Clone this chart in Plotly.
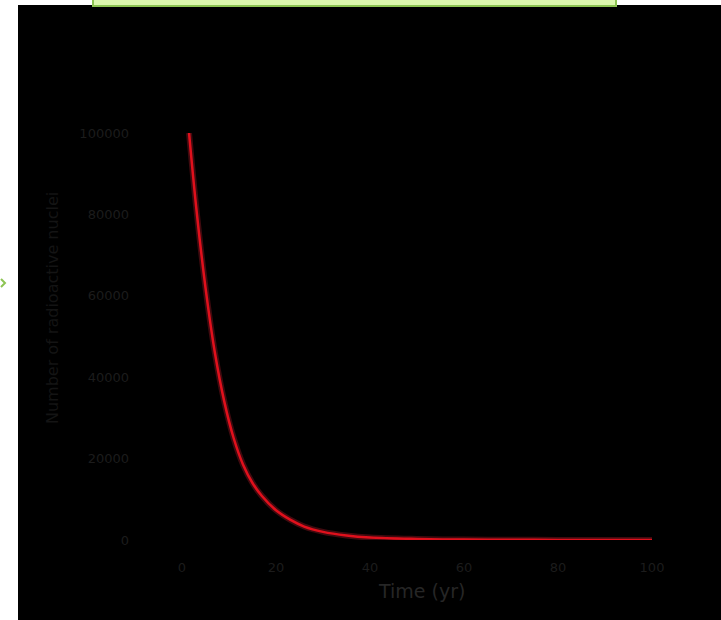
import plotly.graph_objects as go

# Data
time_yr = [1.5, 3, 5, 7, 9, 11, 13, 15, 17, 20, 23, 26, 30, 35, 40, 50, 60, 70, 80, 90, 100]
nuclei = [100000, 82000, 62000, 46000, 34000, 25000, 18500, 14000, 10800, 7300, 5000,
          3300, 2000, 1100, 600, 250, 100, 50, 30, 15, 10]
x_ticks = [0, 20, 40, 60, 80, 100]
y_ticks = [0, 20000, 40000, 60000, 80000, 100000]
y_tick_text = ["0", "20000", "40000", "60000", "80000", "100000"]

W, H = 721, 620
L, R, T, B = 182, 69, 133, 80
pw, ph = W - L - R, H - T - B


def px(x):
    return (x - L) / pw


def py(y):
    return (H - B - y) / ph


fig = go.Figure()
fig.add_trace(go.Scatter(
    x=time_yr, y=nuclei, mode="lines",
    line=dict(color="rgba(255,40,60,0.25)", width=6, shape="spline"),
    hoverinfo="skip", showlegend=False))
fig.add_trace(go.Scatter(
    x=time_yr, y=nuclei, mode="lines",
    line=dict(color="#e0101c", width=2.5, shape="spline"),
    showlegend=False))

axis_font = dict(family="DejaVu Sans, sans-serif", size=13, color="#1c1c1c")

fig.update_layout(
    width=W, height=H,
    margin=dict(l=L, r=R, t=T, b=B),
    paper_bgcolor="black", plot_bgcolor="black",
    xaxis=dict(range=[0, 100], tickvals=x_ticks, showgrid=False, zeroline=False,
               showline=False, tickfont=axis_font, ticklabelstandoff=18),
    yaxis=dict(range=[0, 100000], tickvals=y_ticks, ticktext=y_tick_text,
               showgrid=False, zeroline=False, showline=False,
               tickfont=axis_font, ticklabelstandoff=52),
    shapes=[
        dict(type="rect", xref="paper", yref="paper", x0=px(-2), x1=px(18), y0=py(H + 2), y1=py(-2),
             fillcolor="white", line=dict(width=0), layer="above"),
        dict(type="rect", xref="paper", yref="paper", x0=px(-2), x1=px(W + 2), y0=py(5), y1=py(-2),
             fillcolor="white", line=dict(width=0), layer="above"),
        dict(type="rect", xref="paper", yref="paper", x0=px(93), x1=px(616), y0=py(6), y1=py(-2),
             fillcolor="#dcf7ae", line=dict(color="#8dc453", width=2), layer="above"),
        dict(type="path", xref="paper", yref="paper",
             path=f"M {px(1)},{py(279)} L {px(5)},{py(283)} L {px(1)},{py(287)}",
             line=dict(color="#8dc453", width=2), layer="above"),
    ],
    annotations=[
        dict(text="Number of radioactive nuclei", xref="paper", yref="paper",
             x=px(52), y=py(308), xanchor="center", yanchor="middle",
             textangle=-90, showarrow=False,
             font=dict(family="DejaVu Sans, sans-serif", size=16, color="#141414")),
        dict(text="Time (yr)", xref="paper", yref="paper",
             x=px(421), y=py(591), xanchor="center", yanchor="middle", showarrow=False,
             font=dict(family="DejaVu Sans, sans-serif", size=19, color="#262626")),
    ],
)

fig.write_html("out.html", config={"displayModeBar": False},
               post_script="document.body.style.margin='0';")
